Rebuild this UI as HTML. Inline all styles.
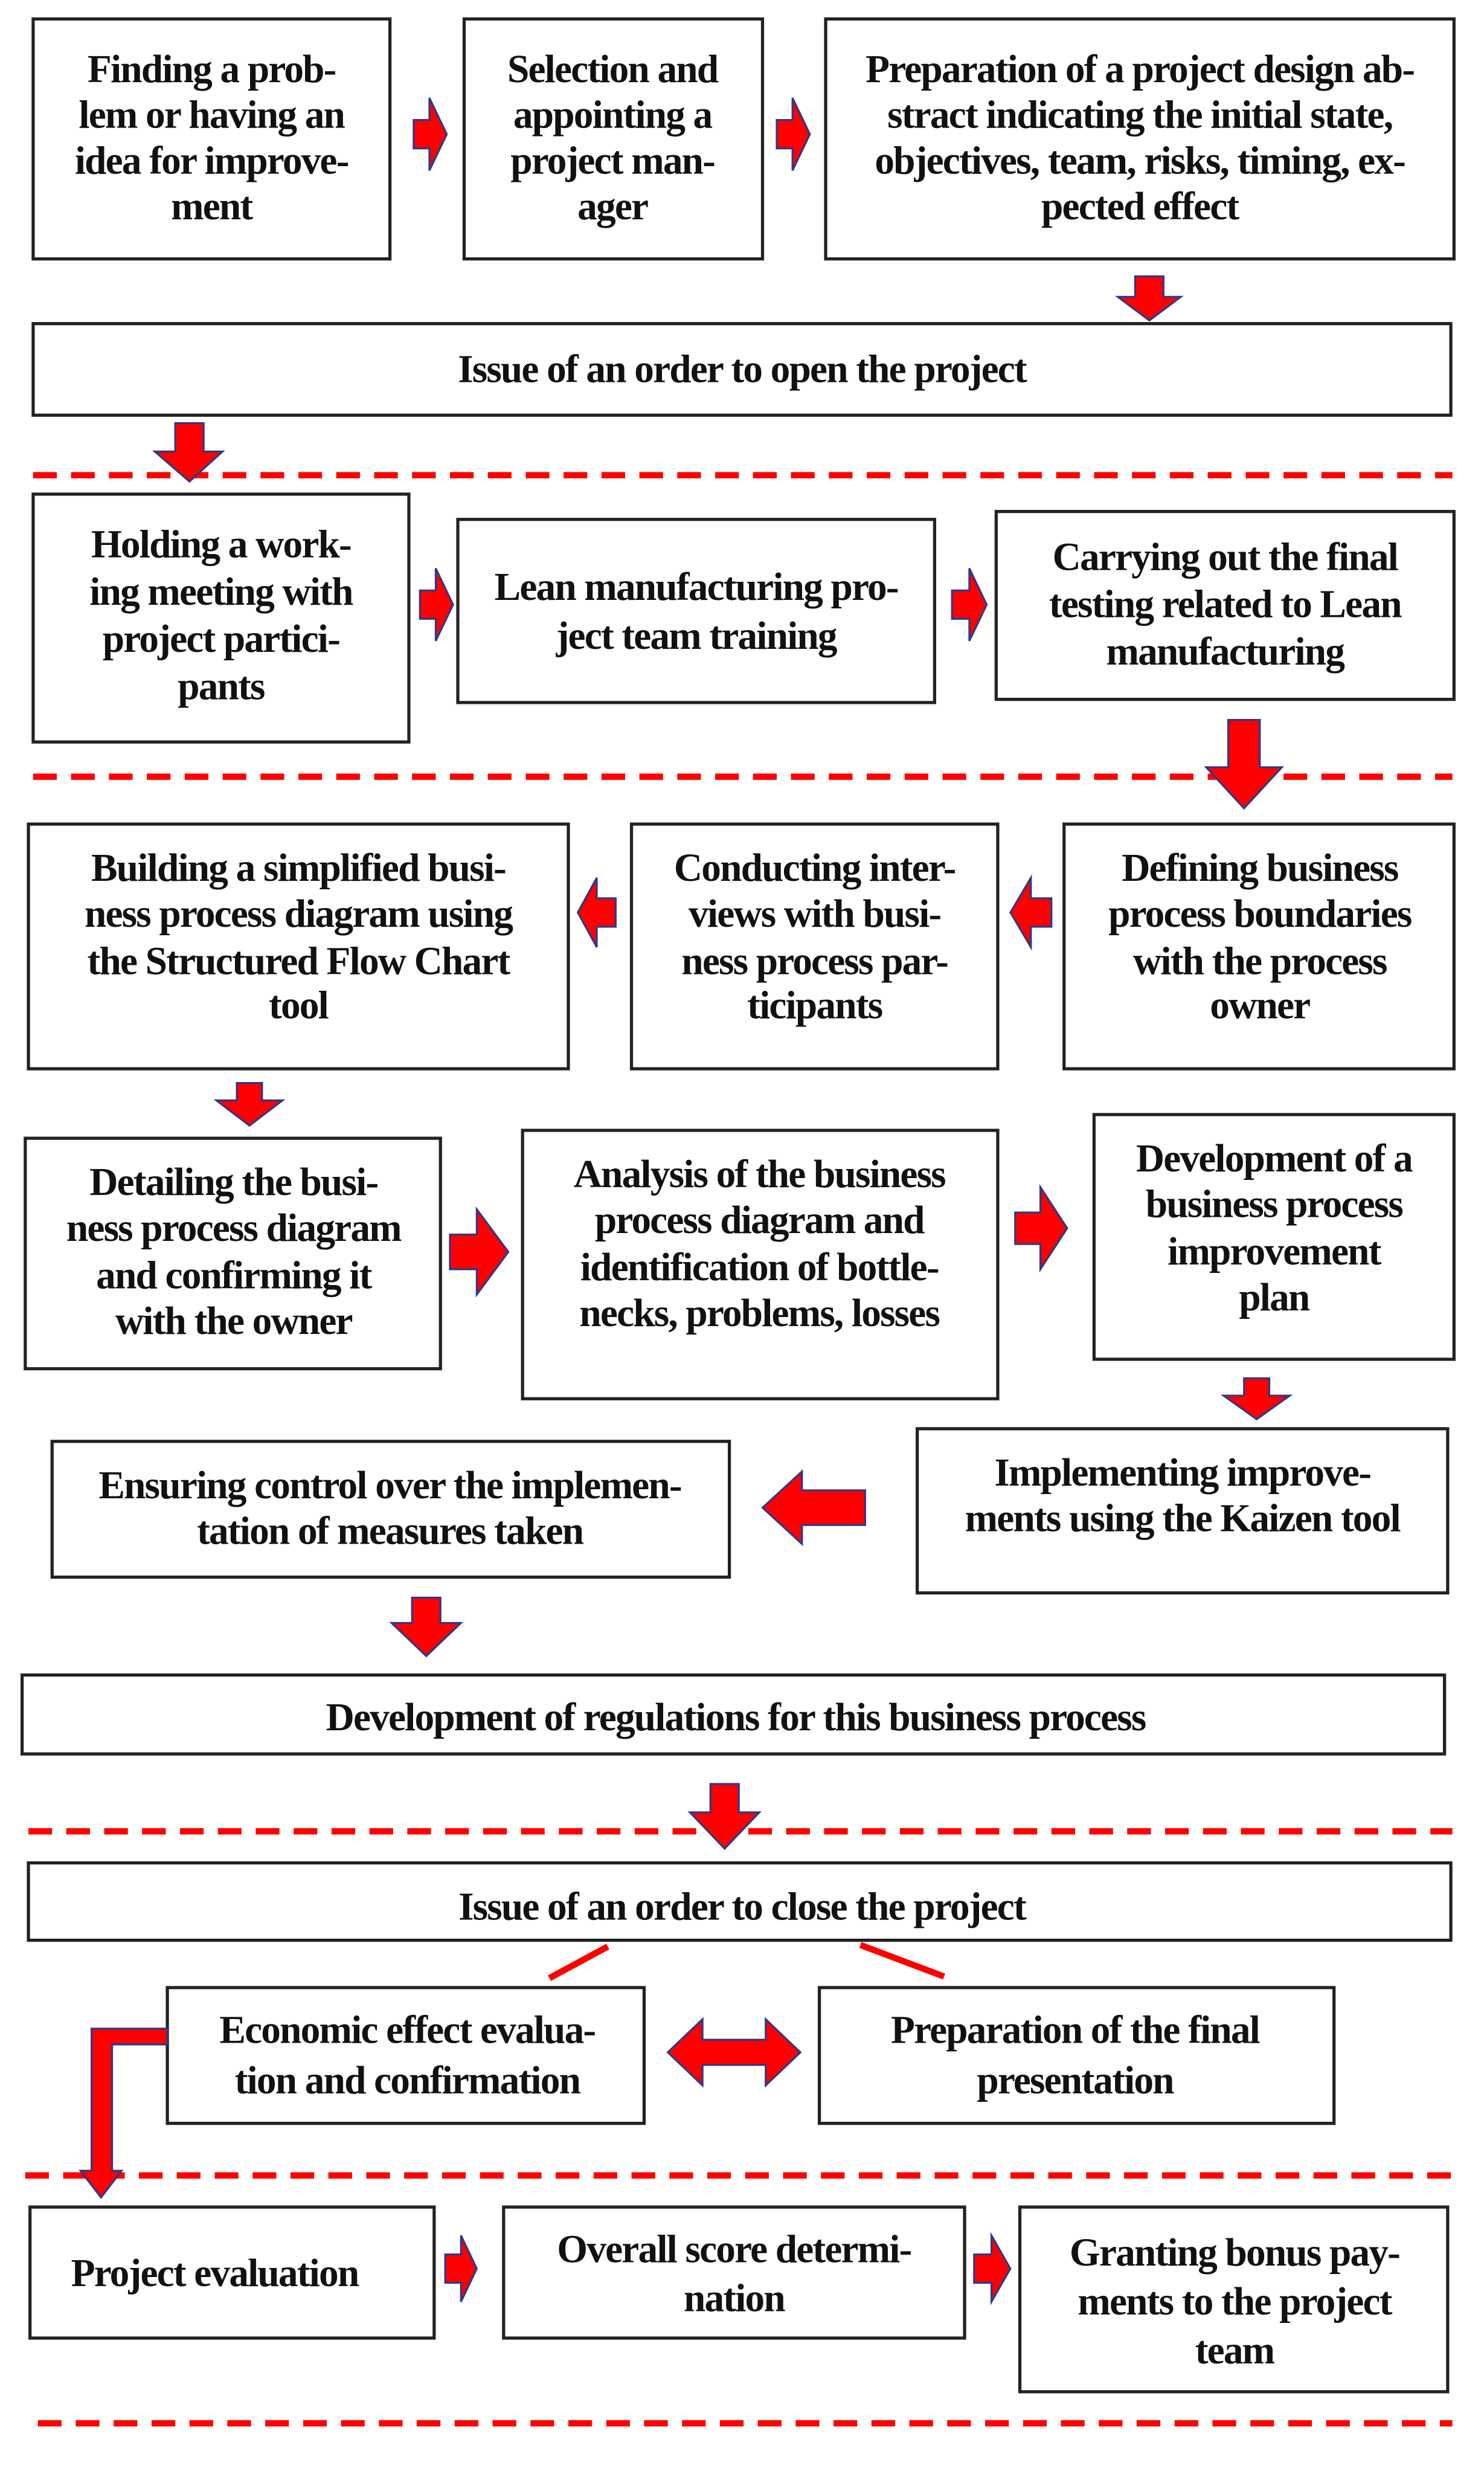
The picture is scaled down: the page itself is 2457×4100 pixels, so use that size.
<!DOCTYPE html>
<html><head><meta charset="utf-8"><style>
html,body{margin:0;padding:0;background:#fff;}
svg{display:block;}
text{font-family:"Liberation Serif",serif;font-weight:bold;font-size:25px;fill:#111;text-anchor:middle;letter-spacing:-0.7px;}
.b{fill:#fff;stroke:#222;stroke-width:2;}
.a{fill:#f00;stroke:#2a3a8a;stroke-width:1.2;stroke-linejoin:miter;}
.d{stroke:#f00;stroke-width:4;stroke-dasharray:15 9;fill:none;}
</style></head><body>
<svg width="2457" height="4100" viewBox="0 0 940 1569" preserveAspectRatio="none" xmlns="http://www.w3.org/2000/svg">
<line class="d" x1="21" y1="301" x2="920" y2="301"/>
<line class="d" x1="21" y1="492" x2="920" y2="492"/>
<line class="d" x1="18" y1="1160" x2="920" y2="1160"/>
<line class="d" x1="16" y1="1378" x2="920" y2="1378"/>
<line class="d" x1="24" y1="1535" x2="920" y2="1535"/>

<rect class="b" x="21" y="12" width="226" height="152"/>
<text x="134" y="52">Finding a prob-</text>
<text x="134" y="81">lem or having an</text>
<text x="134" y="110">idea for improve-</text>
<text x="134" y="139">ment</text>
<rect class="b" x="294" y="12" width="189" height="152"/>
<text x="388" y="52">Selection and</text>
<text x="388" y="81">appointing a</text>
<text x="388" y="110">project man-</text>
<text x="388" y="139">ager</text>
<rect class="b" x="523" y="12" width="398" height="152"/>
<text x="722" y="52">Preparation of a project design ab-</text>
<text x="722" y="81">stract indicating the initial state,</text>
<text x="722" y="110">objectives, team, risks, timing, ex-</text>
<text x="722" y="139">pected effect</text>
<polygon class="a" points="262,76 272,76 272,62 283,85 272,108 272,94 262,94"/>
<polygon class="a" points="492,76 502,76 502,62 513,85 502,108 502,94 492,94"/>
<polygon class="a" points="719,175 737,175 737,188 748,188 728,203 708,188 719,188"/>

<rect class="b" x="21" y="205" width="898" height="58"/>
<text x="470" y="242">Issue of an order to open the project</text>
<polygon class="a" points="111,268 129,268 129,286 141,286 120,305 98,286 111,286"/>

<rect class="b" x="21" y="313" width="238" height="157"/>
<text x="140" y="353">Holding a work-</text>
<text x="140" y="383">ing meeting with</text>
<text x="140" y="413">project partici-</text>
<text x="140" y="443">pants</text>
<rect class="b" x="290" y="329" width="302" height="116"/>
<text x="441" y="380">Lean manufacturing pro-</text>
<text x="441" y="411">ject team training</text>
<rect class="b" x="631" y="324" width="290" height="119"/>
<text x="776" y="361">Carrying out the final</text>
<text x="776" y="391">testing related to Lean</text>
<text x="776" y="421">manufacturing</text>
<polygon class="a" points="266,374 276,374 276,360 287,383 276,406 276,392 266,392"/>
<polygon class="a" points="603,374 614,374 614,360 625,383 614,406 614,392 603,392"/>
<polygon class="a" points="778,456 798,456 798,486 812,486 788,512 764,486 778,486"/>

<rect class="b" x="18" y="522" width="342" height="155"/>
<text x="189" y="558">Building a simplified busi-</text>
<text x="189" y="587">ness process diagram using</text>
<text x="189" y="617">the Structured Flow Chart</text>
<text x="189" y="645">tool</text>
<rect class="b" x="400" y="522" width="232" height="155"/>
<text x="516" y="558">Conducting inter-</text>
<text x="516" y="587">views with busi-</text>
<text x="516" y="617">ness process par-</text>
<text x="516" y="645">ticipants</text>
<rect class="b" x="674" y="522" width="247" height="155"/>
<text x="798" y="558">Defining business</text>
<text x="798" y="587">process boundaries</text>
<text x="798" y="617">with the process</text>
<text x="798" y="645">owner</text>
<polygon class="a" points="390,569 378,569 378,556 366,578 378,600 378,587 390,587"/>
<polygon class="a" points="666,569 653,569 653,556 640,578 653,600 653,587 666,587"/>
<polygon class="a" points="150,686 166,686 166,697 179,697 158,713 137,697 150,697"/>

<rect class="b" x="16" y="721" width="263" height="146"/>
<text x="148" y="757">Detailing the busi-</text>
<text x="148" y="786">ness process diagram</text>
<text x="148" y="816">and confirming it</text>
<text x="148" y="845">with the owner</text>
<rect class="b" x="331" y="716" width="301" height="170"/>
<text x="481" y="752">Analysis of the business</text>
<text x="481" y="781">process diagram and</text>
<text x="481" y="811">identification of bottle-</text>
<text x="481" y="840">necks, problems, losses</text>
<rect class="b" x="693" y="706" width="228" height="155"/>
<text x="807" y="742">Development of a</text>
<text x="807" y="771">business process</text>
<text x="807" y="801">improvement</text>
<text x="807" y="830">plan</text>
<polygon class="a" points="285,782 302,782 302,766 322,793 302,820 302,804 285,804"/>
<polygon class="a" points="643,768 659,768 659,752 676,778 659,804 659,788 643,788"/>
<polygon class="a" points="788,873 804,873 804,884 817,884 796,899 775,884 788,884"/>

<rect class="b" x="33" y="913" width="429" height="86"/>
<text x="247" y="949">Ensuring control over the implemen-</text>
<text x="247" y="978">tation of measures taken</text>
<rect class="b" x="581" y="905" width="336" height="104"/>
<text x="749" y="941">Implementing improve-</text>
<text x="749" y="970">ments using the Kaizen tool</text>
<polygon class="a" points="548,944 508,944 508,932 483,955 508,978 508,966 548,966"/>
<polygon class="a" points="261,1012 279,1012 279,1028 292,1028 270,1049 248,1028 261,1028"/>

<rect class="b" x="14" y="1061" width="901" height="50"/>
<text x="466" y="1096">Development of regulations for this business process</text>
<polygon class="a" points="450,1130 468,1130 468,1148 481,1148 459,1171 437,1148 450,1148"/>

<rect class="b" x="18" y="1180" width="901" height="49"/>
<text x="470" y="1216">Issue of an order to close the project</text>
<line x1="385" y1="1233" x2="348" y2="1253" stroke="#f00" stroke-width="4"/>
<line x1="545" y1="1232" x2="598" y2="1252" stroke="#f00" stroke-width="4"/>

<rect class="b" x="106" y="1259" width="302" height="86"/>
<text x="258" y="1294">Economic effect evalua-</text>
<text x="258" y="1326">tion and confirmation</text>
<rect class="b" x="519" y="1259" width="326" height="86"/>
<text x="681" y="1294">Preparation of the final</text>
<text x="681" y="1326">presentation</text>
<polygon class="a" points="423,1300 445,1279 445,1292 485,1292 485,1279 507,1300 485,1321 485,1308 445,1308 445,1321"/>
<polygon class="a" points="106,1285 106,1295 71,1295 71,1375 77,1375 64,1392 51,1375 58,1375 58,1285"/>

<rect class="b" x="19" y="1398" width="256" height="83"/>
<text x="136" y="1448">Project evaluation</text>
<rect class="b" x="319" y="1398" width="292" height="83"/>
<text x="465" y="1433">Overall score determi-</text>
<text x="465" y="1464">nation</text>
<rect class="b" x="646" y="1398" width="271" height="117"/>
<text x="782" y="1435">Granting bonus pay-</text>
<text x="782" y="1466">ments to the project</text>
<text x="782" y="1497">team</text>
<polygon class="a" points="282,1428 292,1428 292,1416 302,1437 292,1458 292,1446 282,1446"/>
<polygon class="a" points="617,1428 628,1428 628,1416 640,1437 628,1458 628,1446 617,1446"/>
</svg>
</body></html>
